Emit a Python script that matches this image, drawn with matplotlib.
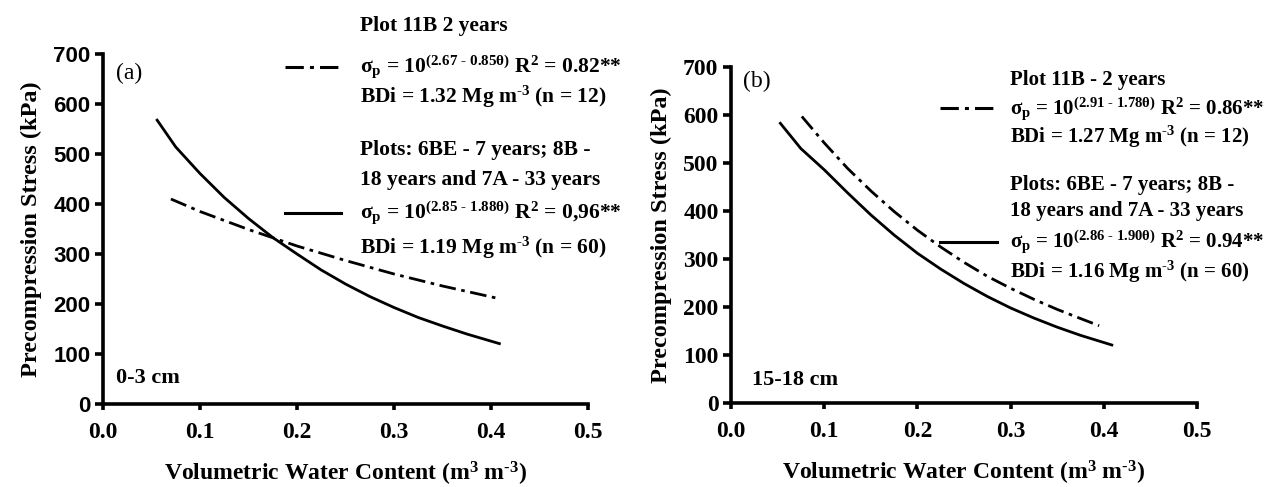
import matplotlib
matplotlib.use("Agg")
import matplotlib.pyplot as plt
from matplotlib.lines import Line2D

# ---------------- data ----------------
# Panel (a) 0-3 cm
a_dash_theta = [0.07, 0.10, 0.15, 0.20, 0.25, 0.30, 0.35, 0.41]
a_dash_sigma = [410, 385, 349, 316, 287, 260, 236, 210]
a_solid_theta = [0.055, 0.075, 0.10, 0.125, 0.15, 0.175, 0.20, 0.225, 0.25,
                 0.275, 0.30, 0.325, 0.35, 0.375, 0.41]
a_solid_sigma = [570, 514, 461, 413, 371, 333, 300, 268, 240,
                 215, 193, 173, 156, 140, 120]

# Panel (b) 15-18 cm
b_dash_theta = [0.076, 0.10, 0.125, 0.15, 0.175, 0.20, 0.225, 0.25,
                0.275, 0.30, 0.325, 0.35, 0.375, 0.395]
b_dash_sigma = [597, 542, 489, 442, 399, 360, 325, 293,
                264, 239, 216, 195, 176, 161]
b_solid_theta = [0.052, 0.075, 0.10, 0.125, 0.15, 0.175, 0.20, 0.225, 0.25,
                 0.275, 0.30, 0.325, 0.35, 0.375, 0.41]
b_solid_sigma = [585, 530, 486, 438, 392, 350, 312, 279, 249,
                 222, 198, 177, 158, 141, 120]

x_ticks = [0.0, 0.1, 0.2, 0.3, 0.4, 0.5]
x_ticklabels = ["0.0", "0.1", "0.2", "0.3", "0.4", "0.5"]
y_ticks = [0, 100, 200, 300, 400, 500, 600, 700]

xlabel = "Volumetric Water Content (m$^{3}$ m$^{\\text{-3}}$)"
ylabel = "Precompression Stress (kPa)"

a_texts = ["Plot 11B 2 years",
           "σ$_{\\mathrm{p}}$ = 10$^{\\mathsf{(2.67\\ \u2010\\ 0.85θ)}}$ R$^{2}$ = 0.82**",
           "BDi = 1.32 Mg m$^{\\text{-3}}$ (n = 12)",
           "Plots: 6BE - 7 years; 8B -",
           "18 years and 7A - 33 years",
           "σ$_{\\mathrm{p}}$ = 10$^{\\mathsf{(2.85\\ \u2010\\ 1.88θ)}}$ R$^{2}$ = 0,96**",
           "BDi = 1.19 Mg m$^{\\text{-3}}$ (n = 60)"]
b_texts = ["Plot 11B - 2 years",
           "σ$_{\\mathrm{p}}$ = 10$^{\\mathsf{(2.91\\ \u2010\\ 1.78θ)}}$ R$^{2}$ = 0.86**",
           "BDi = 1.27 Mg m$^{\\text{-3}}$ (n = 12)",
           "Plots: 6BE - 7 years; 8B -",
           "18 years and 7A - 33 years",
           "σ$_{\\mathrm{p}}$ = 10$^{\\mathsf{(2.86\\ \u2010\\ 1.90θ)}}$ R$^{2}$ = 0.94**",
           "BDi = 1.16 Mg m$^{\\text{-3}}$ (n = 60)"]

# ---------------- style ----------------
plt.rcParams['font.family'] = ['Liberation Serif', 'DejaVu Serif']
plt.rcParams['font.weight'] = 'bold'
plt.rcParams['mathtext.fontset'] = 'custom'
plt.rcParams['mathtext.rm'] = 'Liberation Serif:bold'
plt.rcParams['mathtext.it'] = 'Liberation Serif:italic:bold'
plt.rcParams['mathtext.bf'] = 'Liberation Serif:bold'
plt.rcParams['mathtext.sf'] = 'Liberation Serif'

W, H = 1264, 487
fig = plt.figure(figsize=(W / 100, H / 100), dpi=100)


def fx(px):
    return px / W


def fy(py):
    return 1 - py / H


dash_style = (0, (6, 2, 1.3, 2))
LW = 2.0


def setup(ax, sans_y):
    ax.set_xlim(0, 0.5)
    ax.set_ylim(0, 700)
    for s in ['top', 'right']:
        ax.spines[s].set_visible(False)
    for s in ['left', 'bottom']:
        ax.spines[s].set_linewidth(2.6)
    ax.set_xticks(x_ticks)
    ax.set_xticklabels(x_ticklabels)
    ax.set_yticks(y_ticks)
    ax.tick_params(axis='x', direction='out', length=4, width=2.6, pad=9,
                   labelsize=17)
    ax.tick_params(axis='y', direction='out', length=6, width=2.6, pad=3,
                   labelsize=17 if not sans_y else 16)
    for lab in ax.get_xticklabels():
        lab.set_fontweight('bold')
        lab.set_family('Liberation Serif')
    for lab in ax.get_yticklabels():
        lab.set_fontweight('bold')
        lab.set_family('Liberation Sans' if sans_y else 'Liberation Serif')
    ax.set_xlabel(xlabel, fontsize=17, fontweight='bold', labelpad=12)
    ax.set_ylabel(ylabel, fontsize=17.5, fontweight='bold', labelpad=8)


# Panel (a)
axa = fig.add_axes([fx(103), fy(404), fx(588 - 103), (404 - 54) / H])
axa.plot(a_solid_theta, a_solid_sigma, color='black', lw=LW, solid_capstyle='butt')
axa.plot(a_dash_theta, a_dash_sigma, color='black', lw=LW, linestyle=dash_style)
setup(axa, True)
axa.text(0.013, 682, "(a)", fontsize=17, fontweight='normal', va='top')
axa.text(0.013, 52, "0-3 cm", fontsize=16, fontweight='bold', va='center')

# Panel (b)
axb = fig.add_axes([fx(731), fy(403), fx(1197 - 731), (403 - 67) / H])
axb.plot(b_solid_theta, b_solid_sigma, color='black', lw=LW, solid_capstyle='butt')
axb.plot(b_dash_theta, b_dash_sigma, color='black', lw=LW, linestyle=dash_style)
setup(axb, False)
axb.text(0.013, 692, "(b)", fontsize=17, fontweight='normal', va='top')
axb.text(0.023, 48, "15-18 cm", fontsize=16, fontweight='bold', va='center')

TS = 15.5
# annotations panel (a)
a_y = [26, 67, 97, 150, 180, 213, 248]
for t, yy in zip(a_texts, a_y):
    fig.text(fx(360), fy(yy), t, fontsize=TS, fontweight='bold', va='center', ha='left')
fig.add_artist(Line2D([fx(285), fx(341)], [fy(67), fy(67)], color='black', lw=2.2,
                      linestyle=dash_style))
fig.add_artist(Line2D([fx(285), fx(341)], [fy(213), fy(213)], color='black', lw=2.2))

# annotations panel (b)
b_y = [80, 108, 137, 185, 211, 242, 272]
for t, yy in zip(b_texts, b_y):
    fig.text(fx(1010), fy(yy), t, fontsize=15, fontweight='bold', va='center', ha='left')
fig.add_artist(Line2D([fx(940), fx(997)], [fy(108), fy(108)], color='black', lw=2.2,
                      linestyle=dash_style))
fig.add_artist(Line2D([fx(940), fx(997)], [fy(242), fy(242)], color='black', lw=2.2))

fig.savefig("out.png", dpi=100)
